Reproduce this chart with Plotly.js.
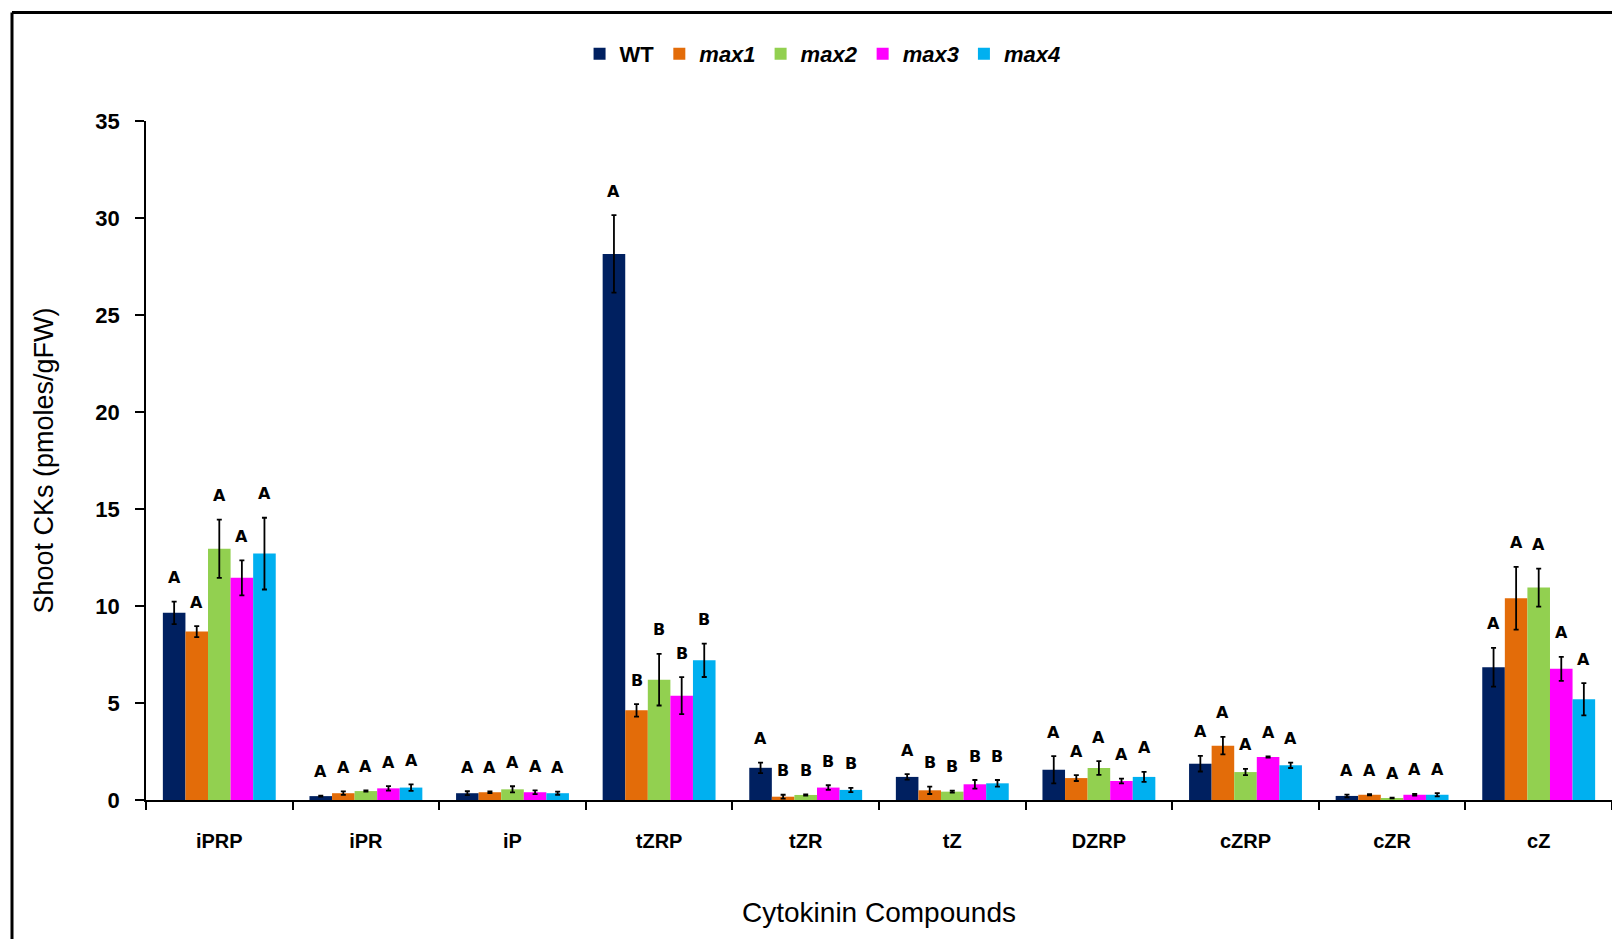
<!DOCTYPE html>
<html>
<head>
<meta charset="utf-8">
<script src="https://cdn.plot.ly/plotly-3.0.1.min.js"></script>
<style>
  html, body { margin: 0; padding: 0; background: #ffffff; }
  #chart { width: 1612px; height: 939px; }
</style>
</head>
<body>
<div id="chart"></div>
<script>
// ---- Data ----
const categories = ["iPRP", "iPR", "iP", "tZRP", "tZR", "tZ", "DZRP", "cZRP", "cZR", "cZ"];
const seriesNames = ["WT", "max1", "max2", "max3", "max4"];

const wtValues   = [9.65, 0.20, 0.35, 28.15, 1.66, 1.19, 1.56, 1.87, 0.21, 6.84];
const max1Values = [8.68, 0.35, 0.40, 4.62, 0.17, 0.50, 1.13, 2.80, 0.27, 10.40];
const max2Values = [12.95, 0.46, 0.55, 6.20, 0.26, 0.43, 1.65, 1.44, 0.10, 10.95];
const max3Values = [11.45, 0.60, 0.40, 5.38, 0.64, 0.81, 0.98, 2.22, 0.27, 6.76];
const max4Values = [12.70, 0.64, 0.35, 7.20, 0.52, 0.86, 1.19, 1.79, 0.27, 5.19];

const wtErrors   = [0.58, 0.03, 0.10, 2.00, 0.27, 0.14, 0.70, 0.40, 0.07, 1.00];
const max1Errors = [0.28, 0.09, 0.04, 0.32, 0.10, 0.19, 0.15, 0.45, 0.03, 1.62];
const max2Errors = [1.50, 0.03, 0.16, 1.33, 0.03, 0.05, 0.35, 0.16, 0.02, 0.98];
const max3Errors = [0.90, 0.12, 0.10, 0.95, 0.12, 0.22, 0.12, 0.03, 0.04, 0.62];
const max4Errors = [1.85, 0.17, 0.08, 0.86, 0.11, 0.17, 0.26, 0.14, 0.08, 0.83];

const wtLetters   = ["A", "A", "A", "A", "A", "A", "A", "A", "A", "A"];
const max1Letters = ["A", "A", "A", "B", "B", "B", "A", "A", "A", "A"];
const max2Letters = ["A", "A", "A", "B", "B", "B", "A", "A", "A", "A"];
const max3Letters = ["A", "A", "A", "B", "B", "B", "A", "A", "A", "A"];
const max4Letters = ["A", "A", "A", "B", "B", "B", "A", "A", "A", "A"];

const yTickValues = [0, 5, 10, 15, 20, 25, 30, 35];

// ---- Styling ----
const colors = ["#002060", "#E36C09", "#92D050", "#FF00FF", "#00B0F0"];
const italicNames = [false, true, true, true, true];

const allValues  = [wtValues, max1Values, max2Values, max3Values, max4Values];
const allErrors  = [wtErrors, max1Errors, max2Errors, max3Errors, max4Errors];
const allLetters = [wtLetters, max1Letters, max2Letters, max3Letters, max4Letters];

const W = 1612, H = 939;
const margin = { l: 146, r: 0, t: 121, b: 139 };
const bargap = 0.23;
const plotW = W - margin.l - margin.r;
const plotH = H - margin.t - margin.b;
const barPx = plotW / categories.length * (1 - bargap) / seriesNames.length;

const traces = seriesNames.map((name, i) => ({
  type: "bar",
  name: italicNames[i] ? "<i>" + name + "</i>" : name,
  x: categories,
  y: allValues[i],
  marker: { color: colors[i], line: { width: 0 } },
  error_y: {
    type: "data",
    array: allErrors[i],
    visible: true,
    color: "#000000",
    thickness: 1.8,
    width: 2.5
  },
  hoverinfo: "x+y+name"
}));

const annotations = [];
seriesNames.forEach((name, i) => {
  categories.forEach((cat, j) => {
    annotations.push({
      x: cat,
      y: allValues[i][j] + allErrors[i][j],
      xref: "x",
      yref: "y",
      text: "<b>" + allLetters[i][j] + "</b>",
      showarrow: false,
      xshift: (i - (seriesNames.length - 1) / 2) * barPx,
      yshift: 24,
      yanchor: "middle",
      font: { family: "DejaVu Sans, Verdana, sans-serif", size: 16, color: "#000000" }
    });
  });
});

const layout = {
  width: W,
  height: H,
  margin: margin,
  paper_bgcolor: "#ffffff",
  plot_bgcolor: "#ffffff",
  barmode: "group",
  bargap: bargap,
  bargroupgap: 0,
  showlegend: true,
  legend: {
    orientation: "h",
    x: 0.4615,
    xanchor: "center",
    y: 1.0986,
    yanchor: "middle",
    font: { family: "Liberation Sans, Arial, sans-serif", size: 22, color: "#000000", weight: "bold" },
    traceorder: "normal",
    itemclick: false
  },
  xaxis: {
    type: "category",
    showline: true,
    linecolor: "#000000",
    linewidth: 1.5,
    ticks: "outside",
    tickson: "boundaries",
    ticklen: 8,
    tickwidth: 1.5,
    tickcolor: "#000000",
    ticklabelstandoff: 22,
    tickfont: { family: "Liberation Sans, Arial, sans-serif", size: 20, color: "#000000", weight: "bold" },
    showgrid: false,
    zeroline: false,
    title: {
      text: "Cytokinin Compounds",
      font: { family: "Liberation Sans, Arial, sans-serif", size: 28, color: "#000000" },
      standoff: 52
    }
  },
  yaxis: {
    range: [0, 35],
    tickvals: yTickValues,
    showline: true,
    linecolor: "#000000",
    linewidth: 1.5,
    ticks: "outside",
    ticklen: 9,
    tickwidth: 1.5,
    tickcolor: "#000000",
    ticklabelstandoff: 11,
    tickfont: { family: "Liberation Sans, Arial, sans-serif", size: 22, color: "#000000", weight: "bold" },
    showgrid: false,
    zeroline: false,
    title: {
      text: "Shoot CKs (pmoles/gFW)",
      font: { family: "Liberation Sans, Arial, sans-serif", size: 27, color: "#000000" },
      standoff: 34
    }
  },
  shapes: [
    {
      type: "line", xref: "paper", yref: "paper",
      x0: (12 - margin.l) / plotW, x1: 1.02,
      y0: (H - margin.b - 12.5) / plotH, y1: (H - margin.b - 12.5) / plotH,
      line: { color: "#000000", width: 3 }
    },
    {
      type: "line", xref: "paper", yref: "paper",
      x0: (12 - margin.l) / plotW, x1: (12 - margin.l) / plotW,
      y0: (H - margin.b - 12.5) / plotH, y1: -0.25,
      line: { color: "#000000", width: 3 }
    }
  ],
  annotations: annotations
};

Plotly.newPlot("chart", traces, layout, { displayModeBar: false, responsive: false });
</script>
</body>
</html>
